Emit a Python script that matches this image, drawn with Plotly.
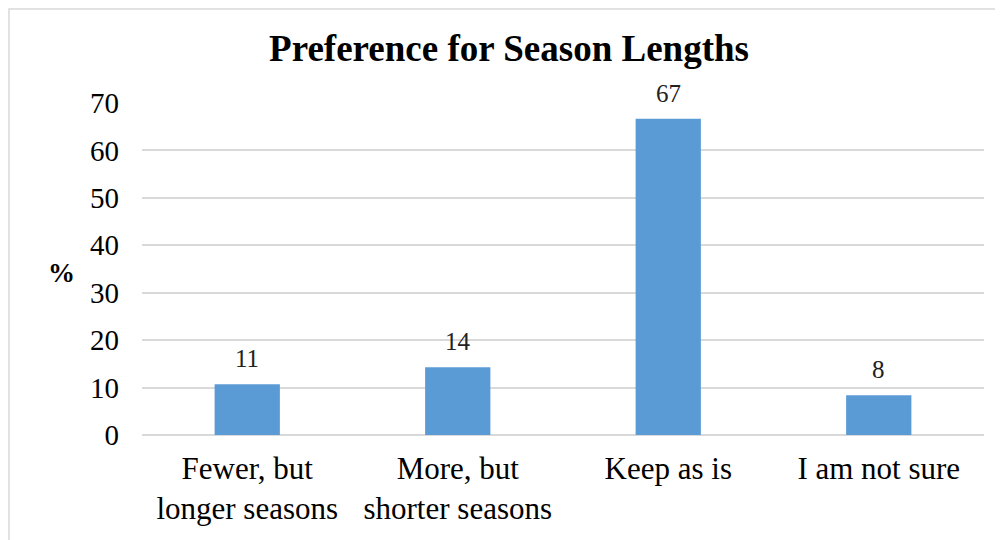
import plotly.graph_objects as go

categories = ["Fewer, but<br>longer seasons", "More, but<br>shorter seasons", "Keep as is", "I am not sure"]
values = [10.7, 14.3, 66.7, 8.4]
labels = ["11", "14", "67", "8"]
title_text = "Preference for Season Lengths"
y_ticks = [0, 10, 20, 30, 40, 50, 60, 70]

# the page renders with an 8px body offset; positions below are figure pixels
OFF = 8
W, H = 1003, 540
ml, mr, mt, mb = 142 - OFF, 1003 - (984 - OFF), 103 - OFF, 540 - (435 - OFF)
pw, ph = W - ml - mr, H - mt - mb

FONT = "Liberation Serif, Times New Roman, serif"

fig = go.Figure()
fig.add_trace(go.Bar(
    x=categories, y=values,
    marker=dict(color="#5B9BD5", line=dict(width=0)),
    width=0.31, cliponaxis=False, hoverinfo="x+y",
))

def px_x(p):
    return (p - OFF - ml) / pw

def px_y(p):
    return (H - mb - (p - OFF)) / ph

annotations = [dict(text="<b>%</b>", xref="paper", yref="paper", x=px_x(46), y=px_y(273),
                    xanchor="left", yanchor="middle",
                    showarrow=False, font=dict(family=FONT, size=27, color="black"))]
for c, v, t in zip(categories, values, labels):
    annotations.append(dict(x=c, y=v, xref="x", yref="y", text=t, showarrow=False,
                            yanchor="bottom", yshift=10,
                            font=dict(family=FONT, size=25, color="#222")))

fig.update_layout(
    width=W, height=H,
    margin=dict(l=ml, r=mr, t=mt, b=mb),
    paper_bgcolor="white", plot_bgcolor="white",
    showlegend=False,
    title=dict(text="<b>" + title_text + "</b>", x=px_x(509), xref="paper", xanchor="center",
               y=1 - (48 - OFF) / H, yanchor="middle",
               font=dict(family=FONT, size=37, color="black")),
    font=dict(family=FONT, color="black"),
    xaxis=dict(showgrid=False, showline=False, zeroline=False,
               tickfont=dict(family=FONT, size=31, color="black"),
               ticklabelstandoff=12),
    yaxis=dict(range=[0, 70], tickvals=y_ticks, showgrid=True, gridcolor="#d9d9d9", gridwidth=1.5,
               zeroline=True, zerolinecolor="#d9d9d9", zerolinewidth=1.5, showline=False,
               tickfont=dict(family=FONT, size=29, color="black"),
               ticklabelstandoff=22),
    shapes=[dict(type="rect", xref="paper", yref="paper",
                 x0=px_x(OFF + 1), x1=px_x(1030), y0=px_y(580), y1=px_y(OFF + 1),
                 line=dict(color="#d9d9d9", width=1.5), fillcolor="rgba(0,0,0,0)", layer="below")],
    annotations=annotations,
)

fig.write_html("out.html")
